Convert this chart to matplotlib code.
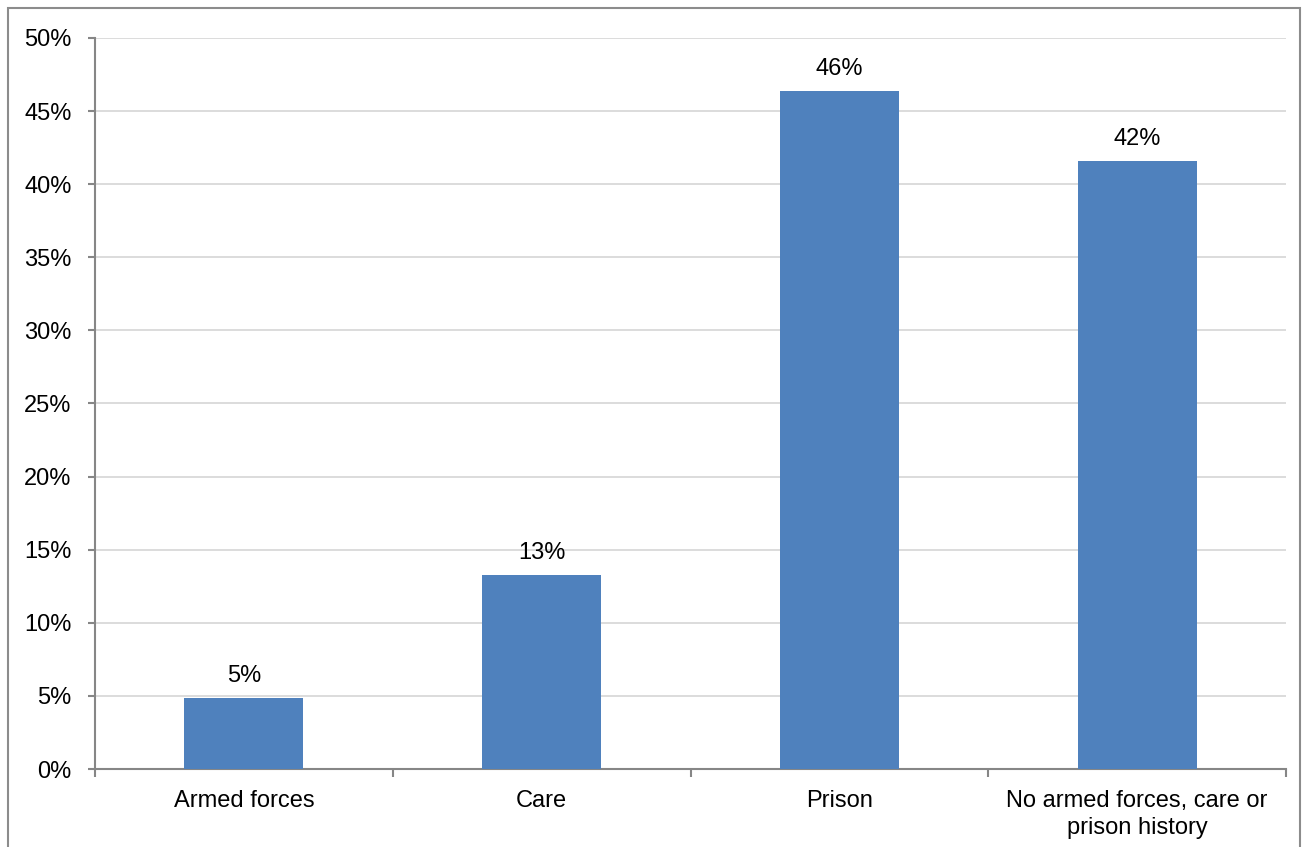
import matplotlib.pyplot as plt
from matplotlib.patches import Rectangle

# Data
categories = ['Armed forces', 'Care', 'Prison', 'No armed forces, care or\nprison history']
values = [4.86, 13.27, 46.37, 41.59]
labels = ['5%', '13%', '46%', '42%']

plt.rcParams['font.family'] = ['Liberation Sans', 'DejaVu Sans']

W, H = 1303, 847
fig = plt.figure(figsize=(W / 100, H / 100), dpi=100)

# outer frame round the chart
fig.patches.append(Rectangle((8 / W, -0.01), (1300 - 8) / W, (H - 8) / H + 0.01,
                             transform=fig.transFigure, fill=False,
                             edgecolor='#8c8c8c', linewidth=1.5))

ax = fig.add_axes([95 / W, (H - 769) / H, 1191 / W, 731 / H])

x = range(len(categories))
ax.bar(x, values, width=0.4, color='#4f81bd', zorder=3)
for i, (v, t) in enumerate(zip(values, labels)):
    ax.text(i, v + 0.75, t, ha='center', va='bottom', fontsize=17, color='black')

ax.set_xlim(-0.5, len(categories) - 0.5)
ax.set_ylim(0, 50)
ax.set_yticks(range(0, 51, 5))
ax.set_yticklabels([f'{v}%' for v in range(0, 51, 5)], fontsize=17)
ax.yaxis.grid(True, color='#d9d9d9', linewidth=1.3, zorder=0)

# category labels centred, ticks on boundaries
ax.set_xticks([i - 0.5 for i in range(len(categories) + 1)])
ax.set_xticklabels([])
ax.set_xticks(list(x), minor=True)
ax.set_xticklabels(categories, minor=True, fontsize=17, linespacing=1.3)
ax.tick_params(axis='x', which='minor', length=0, pad=15)
ax.tick_params(axis='x', which='major', length=6, width=1.5, color='#868686')
ax.tick_params(axis='y', length=5, width=1.5, color='#868686', pad=12)

for s in ['top', 'right']:
    ax.spines[s].set_visible(False)
for s in ['left', 'bottom']:
    ax.spines[s].set_color('#868686')
    ax.spines[s].set_linewidth(1.5)

fig.savefig('out.png', dpi=100)
